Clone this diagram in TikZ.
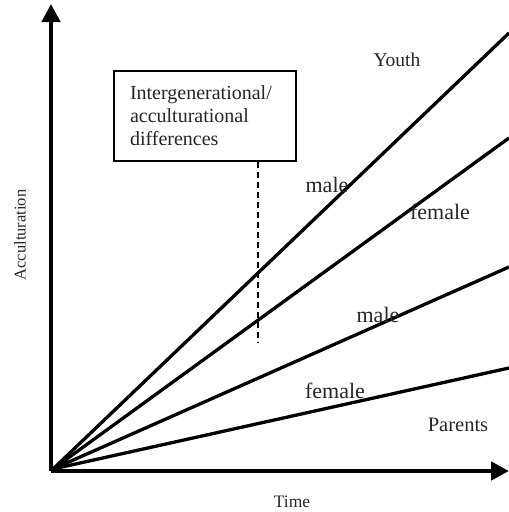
\documentclass[tikz,border=0pt]{standalone}
\usepackage{fontspec}
\setmainfont{Liberation Serif}
\usetikzlibrary{arrows.meta}
\begin{document}
\begin{tikzpicture}[x=1pt,y=-1pt,
  axis/.style={line width=4.5pt,-{Triangle[width=18pt,length=18pt]}},
  trend/.style={line width=3.3pt},
  lbl/.style={inner sep=0pt,text=black!85,font=\fontsize{22}{25}\selectfont},
  boxnode/.style={draw,line width=1.3pt,minimum width=182pt,minimum height=90pt,align=left,text width=150pt,inner xsep=16pt,inner ysep=0pt,font=\fontsize{20}{23}\selectfont,text=black!85},
  guide/.style={line width=1.2pt,dash pattern=on 6pt off 4pt}]
\useasboundingbox (0,0) rectangle (509,512);
\coordinate (corner) at (51,471);
\coordinate (ytip) at (51,4);
\coordinate (xtip) at (509,471);
\coordinate (O) at (53,469);
\coordinate (e1) at (509,33);
\coordinate (e2) at (509,138);
\coordinate (e3) at (509,267);
\coordinate (e4) at (509,368);
\draw[trend] (O) -- (e1);
\draw[trend] (O) -- (e2);
\draw[trend] (O) -- (e3);
\draw[trend] (O) -- (e4);
\draw[axis] (corner) -- (ytip);
\draw[axis] (corner) -- (xtip);
\node[boxnode,fill=white] (box) at (205,116) {Intergenerational/\\acculturational\\differences};
\coordinate (dend) at (258,342);
\draw[guide] (box.south -| dend) -- (dend);
\node[lbl,font=\fontsize{19.5}{22}\selectfont] (youth) at (397,60) {Youth};
\node[lbl] (m1) at (327,185) {male};
\node[lbl] (f1) at (440,212) {female};
\node[lbl] (m2) at (378,315) {male};
\node[lbl] (f2) at (335,391) {female};
\node[lbl,font=\fontsize{20.5}{23}\selectfont] (parents) at (458,425) {Parents};
\node[lbl,font=\fontsize{17.5}{20}\selectfont] (time) at (292,502) {Time};
\node[lbl,font=\fontsize{16.5}{20}\selectfont,rotate=90] (acc) at (20,235) {Acculturation};
\end{tikzpicture}
\end{document}
